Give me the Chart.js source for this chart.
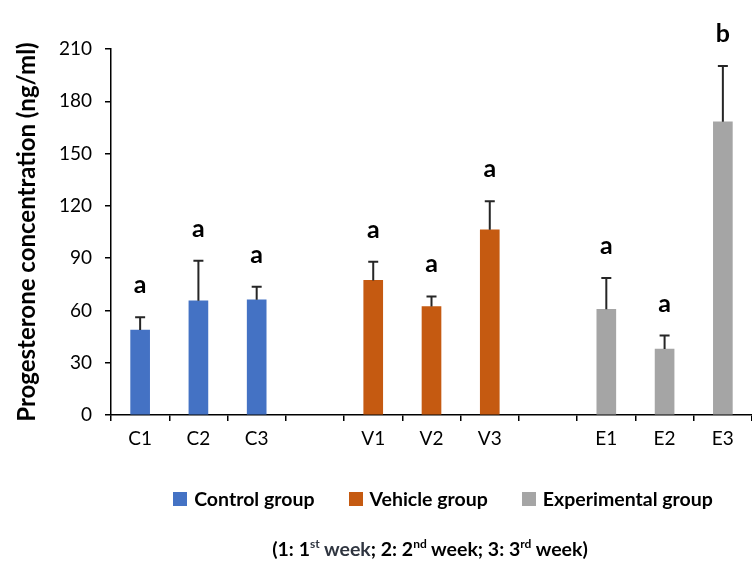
<!DOCTYPE html>
<html><head><meta charset="utf-8">
<script src="https://cdn.jsdelivr.net/npm/chart.js@4"></script>
<style>
html,body{margin:0;padding:0;background:#fff;}
#wrap{position:relative;width:752px;height:565px;overflow:hidden;}
#chart{position:absolute;left:0;top:0;}
#legend{position:absolute;top:487px;left:134px;width:618px;display:flex;justify-content:center;align-items:center;font:bold 19.5px Lato, sans-serif;line-height:24px;color:#000;}
.item{display:flex;align-items:center;margin:0 17px;white-space:pre;}
.sw{width:14px;height:14px;margin-right:7px;}
#note{position:absolute;top:537px;left:108px;width:644px;text-align:center;font:bold 19.5px Lato, sans-serif;line-height:24px;color:#000;}
#note sup{font-size:12px;vertical-align:8px;line-height:0;}
.dk{color:#2f3540;}
</style></head>
<body>
<div id="wrap">
<canvas id="chart" width="752" height="565"></canvas>
<div id="legend"></div>
<div id="note">(1: 1<sup class="dk">st</sup> <span class="dk">week</span>; 2: 2<sup>nd</sup> week; 3: 3<sup>rd</sup> week)</div>
</div>
<script>
// ---- data ----
const categories = ['C1','C2','C3','','V1','V2','V3','','E1','E2','E3'];
const groupNames = ['Control group','Vehicle group','Experimental group'];
const controlMeans = [48.7, 65.5, 66.1];
const controlErrors = [7.4, 23.0, 7.5];
const controlLetters = ['a','a','a'];
const vehicleMeans = [77.2, 62.2, 106.3];
const vehicleErrors = [10.7, 5.8, 16.3];
const vehicleLetters = ['a','a','a'];
const experimentalMeans = [60.7, 37.8, 168.2];
const experimentalErrors = [17.9, 7.8, 32.0];
const experimentalLetters = ['a','a','b'];
const yTicks = [0,30,60,90,120,150,180,210];

const colors = ['#4472C4','#C55A11','#A5A5A5'];

function pad(values, firstLabel){
  const start = categories.indexOf(firstLabel);
  return categories.map((c,i)=> (i>=start && i<start+values.length) ? values[i-start] : null);
}

const groups = [
  {name:groupNames[0], means:pad(controlMeans,'C1'), errs:pad(controlErrors,'C1'), letters:pad(controlLetters,'C1')},
  {name:groupNames[1], means:pad(vehicleMeans,'V1'), errs:pad(vehicleErrors,'V1'), letters:pad(vehicleLetters,'V1')},
  {name:groupNames[2], means:pad(experimentalMeans,'E1'), errs:pad(experimentalErrors,'E1'), letters:pad(experimentalLetters,'E1')}
];

const errorBarPlugin = {
  id:'errorBars',
  afterDatasetsDraw(chart){
    const ctx = chart.ctx;
    const yScale = chart.scales.y;
    ctx.save();
    chart.data.datasets.forEach((ds, di)=>{
      const meta = chart.getDatasetMeta(di);
      meta.data.forEach((bar, i)=>{
        const v = ds.data[i];
        if (v === null || v === undefined) return;
        const e = ds.errors[i];
        const yTop = yScale.getPixelForValue(v + e);
        ctx.strokeStyle = '#262626';
        ctx.lineWidth = 2;
        ctx.beginPath();
        ctx.moveTo(bar.x, bar.y);
        ctx.lineTo(bar.x, yTop);
        ctx.moveTo(bar.x - 5, yTop);
        ctx.lineTo(bar.x + 5, yTop);
        ctx.stroke();
        const letter = ds.letters[i];
        if (letter){
          ctx.fillStyle = '#000';
          ctx.font = 'bold 25px Lato, sans-serif';
          ctx.textAlign = 'center';
          ctx.textBaseline = 'alphabetic';
          ctx.fillText(letter, bar.x, yTop - 24);
        }
      });
    });
    ctx.restore();
  }
};

const chart = new Chart(document.getElementById('chart'), {
  type:'bar',
  data:{
    labels:categories,
    datasets:groups.map((g,k)=>({
      label:g.name,
      data:g.means,
      errors:g.errs,
      letters:g.letters,
      backgroundColor:colors[k],
      borderWidth:0,
      barThickness:19,
      skipNull:true
    }))
  },
  options:{
    responsive:false,
    animation:false,
    devicePixelRatio:1,
    layout:{padding:{top:49,right:0,bottom:0,left:0}},
    plugins:{legend:{display:false},tooltip:{enabled:false}},
    scales:{
      x:{
        grid:{drawOnChartArea:false,drawTicks:true,tickLength:6,color:'#000',lineWidth:1.5,offset:true},
        border:{color:'#000',width:1.5},
        ticks:{color:'#000',padding:6,font:{family:'Lato',size:19},maxRotation:0,autoSkip:false},
        afterFit(s){s.height=150;}
      },
      y:{
        min:0,max:210,
        afterBuildTicks(s){s.ticks = yTicks.map(v=>({value:v}));},
        grid:{drawOnChartArea:false,drawTicks:true,tickLength:6,color:'#000',lineWidth:1.5},
        border:{color:'#000',width:1.5},
        ticks:{color:'#000',padding:13,font:{family:'Lato',size:19}},
        title:{display:true,text:'Progesterone concentration (ng/ml)',color:'#000',font:{family:'Lato',size:24,weight:'bold'},padding:{top:13,bottom:0}},
        afterFit(s){s.width=111;}
      }
    }
  },
  plugins:[errorBarPlugin]
});

// HTML legend built from dataset names and colours
const legend = document.getElementById('legend');
chart.data.datasets.forEach(ds=>{
  const it = document.createElement('div'); it.className='item';
  const sw = document.createElement('span'); sw.className='sw'; sw.style.background = ds.backgroundColor;
  const tx = document.createElement('span'); tx.textContent = ds.label;
  it.appendChild(sw); it.appendChild(tx); legend.appendChild(it);
});
</script>
</body></html>
